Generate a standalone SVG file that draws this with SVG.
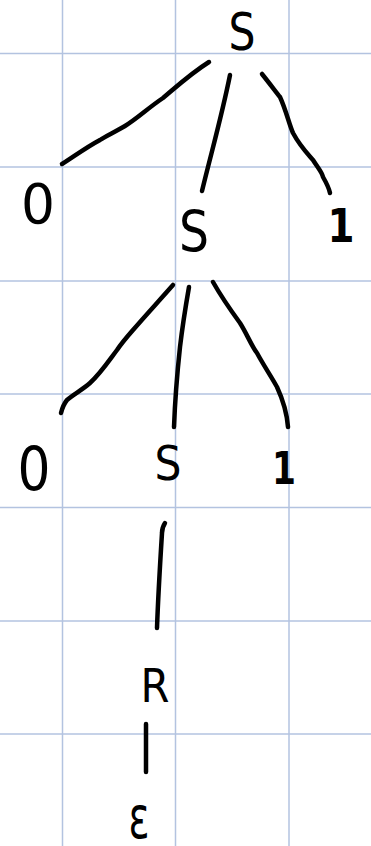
<svg xmlns="http://www.w3.org/2000/svg" width="371" height="846" viewBox="0 0 371 846">
<style>
.grid line{stroke:#b3c3e0;stroke-width:1.5}
.edge{fill:none;stroke:#000;stroke-width:4.5;stroke-linecap:round;stroke-linejoin:round}
text{font-family:"DejaVu Sans","Liberation Sans",sans-serif;fill:#000;text-anchor:middle}
.b{font-weight:bold}
</style>
<rect width="371" height="846" fill="#fff"/>
<g class="grid">
<line x1="62.5" y1="0" x2="62.5" y2="846"/>
<line x1="175.5" y1="0" x2="175.5" y2="846"/>
<line x1="289" y1="0" x2="289" y2="846"/>
<line x1="0" y1="53.5" x2="371" y2="53.5"/>
<line x1="0" y1="167" x2="371" y2="167"/>
<line x1="0" y1="281" x2="371" y2="281"/>
<line x1="0" y1="394" x2="371" y2="394"/>
<line x1="0" y1="507.5" x2="371" y2="507.5"/>
<line x1="0" y1="621" x2="371" y2="621"/>
<line x1="0" y1="734" x2="371" y2="734"/>
</g>
<g id="connectors">
<path class="edge" d="M209,62 C190,74 175,88 163,98 C148,108 138,118 125,126 C115,132 106,136 100,140 C85,148 72,158 62,164"/>
<path class="edge" d="M230,75 C222,115 212,150 202,191"/>
<path class="edge" d="M262,74 C270,84 276,92 280,97 C286,110 289,124 293,133 C300,146 306,152 313,160 C318,168 322,172 323,177 C327,184 329,188 330,193"/>
<path class="edge" d="M173,285 C158,302 145,316 133,330 C126,338 121,344 117,350 C108,362 100,374 90,383 C82,390 74,394 67,400 C63,405 62,409 61,413"/>
<path class="edge" d="M189,287 C185,310 182,330 180,347 C177,375 175,400 174,427"/>
<path class="edge" d="M213,282 C222,298 232,312 240,323 C247,334 251,345 257,353 C264,366 271,376 277,387 C283,400 287,414 288,427"/>
<path class="edge" d="M165,523 C163,526 162,529 162,533 C160,565 158,600 157,628"/>
<path class="edge" d="M146,724 L146,772"/>
</g>
<g id="n-S-root"><text x="242" y="50" font-size="51" textLength="27" lengthAdjust="spacingAndGlyphs">S</text></g>
<g id="n-0-a"><text x="38" y="223" font-size="56" textLength="34" lengthAdjust="spacingAndGlyphs">0</text></g>
<g id="n-S-mid"><text x="194" y="252" font-size="57" textLength="30" lengthAdjust="spacingAndGlyphs">S</text></g>
<g id="n-1-a"><text class="b" x="341" y="242" font-size="47" textLength="27" lengthAdjust="spacingAndGlyphs">1</text></g>
<g id="n-0-b"><text x="34" y="490" font-size="61" textLength="33" lengthAdjust="spacingAndGlyphs">0</text></g>
<g id="n-S-low"><text x="168" y="480" font-size="48" textLength="27" lengthAdjust="spacingAndGlyphs">S</text></g>
<g id="n-1-b"><text class="b" x="284" y="484" font-size="44" textLength="24" lengthAdjust="spacingAndGlyphs">1</text></g>
<g id="n-R"><text x="155" y="702" font-size="47" textLength="29" lengthAdjust="spacingAndGlyphs">R</text></g>
<g id="n-eps"><text x="139" y="838" font-size="58" textLength="21" lengthAdjust="spacingAndGlyphs">ε</text></g>
</svg>
